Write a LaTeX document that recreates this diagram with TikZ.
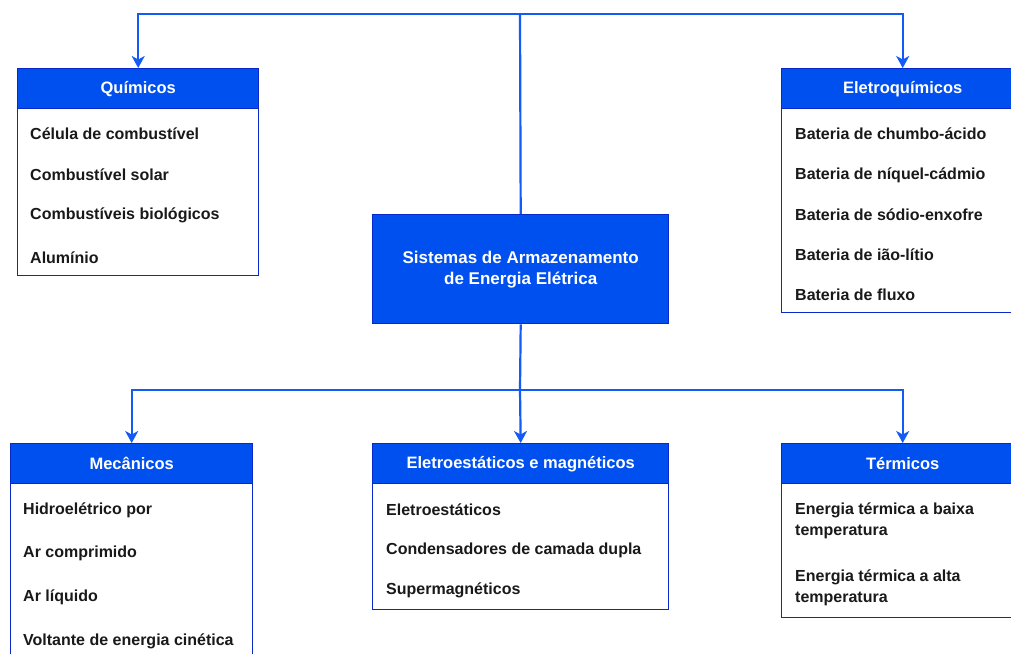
\documentclass[tikz,border=0pt]{standalone}
\usepackage{fontspec}
\setmainfont{Liberation Sans}
\usetikzlibrary{arrows.meta}
\definecolor{hdrblue}{RGB}{0,80,239}
\definecolor{boxline}{RGB}{10,40,200}
\definecolor{linkblue}{RGB}{20,90,245}
\definecolor{itemtext}{RGB}{25,25,25}
\tikzset{
  hdr/.style={draw=boxline, fill=hdrblue, line width=1.4pt, anchor=north west,
    inner sep=0pt, minimum height=40pt, text=white,
    font=\bfseries\fontsize{16.5}{21}\selectfont},
  bodybox/.style={draw=boxline, fill=white, line width=1.4pt, anchor=north west, inner sep=0pt},
  item/.style={anchor=west, inner sep=0pt, text=itemtext, align=left,
    font=\bfseries\fontsize{16}{21}\selectfont},
  link/.style={draw=linkblue, line width=2.2pt},
  arrowlink/.style={link, -{Stealth[length=12pt,width=13pt,inset=3.5pt]}}
}
\begin{document}
\begin{tikzpicture}[x=1pt,y=-1pt]
\useasboundingbox (0,0) rectangle (1011,653);
\clip (0,0) rectangle (1011,653);
\fill[white] (0,0) rectangle (1011,653);

% central node
\node[hdr, minimum width=296pt, minimum height=109pt, align=center,
  font=\bfseries\fontsize{17}{21}\selectfont] (center) at (372,214)
  {Sistemas de Armazenamento\\de Energia Elétrica};

% Químicos
\node[bodybox, minimum width=241pt, minimum height=167pt] (quB) at (17,108) {};
\node[hdr, minimum width=241pt] (quH) at (17,68) {Químicos};
\node[item] (qu1) at (30,134) {Célula de combustível};
\node[item] (qu2) at (30,175) {Combustível solar};
\node[item] (qu3) at (30,215) {Combustíveis biológicos};
\node[item] (qu4) at (30,258) {Alumínio};

% Eletroquímicos
\node[bodybox, minimum width=242pt, minimum height=204pt] (eqB) at (781,108) {};
\node[hdr, minimum width=242pt] (eqH) at (781,68) {Eletroquímicos};
\node[item] (eq1) at (795,134) {Bateria de chumbo-ácido};
\node[item] (eq2) at (795,175) {Bateria de níquel-cádmio};
\node[item] (eq3) at (795,215) {Bateria de sódio-enxofre};
\node[item] (eq4) at (795,255) {Bateria de ião-lítio};
\node[item] (eq5) at (795,295) {Bateria de fluxo};

% Mecânicos
\node[bodybox, minimum width=242pt, minimum height=230pt] (meB) at (10,483) {};
\node[hdr, minimum width=242pt] (meH) at (10,443) {Mecânicos};
\node[item] (me1) at (23,510) {Hidroelétrico por};
\node[item] (me2) at (23,553) {Ar comprimido};
\node[item] (me3) at (23,597) {Ar líquido};
\node[item] (me4) at (23,641) {Voltante de energia cinética};

% Eletroestáticos e magnéticos
\node[bodybox, minimum width=296pt, minimum height=126pt] (esB) at (372,483) {};
\node[hdr, minimum width=296pt] (esH) at (372,443) {Eletroestáticos e magnéticos};
\node[item] (es1) at (386,510) {Eletroestáticos};
\node[item] (es2) at (386,550) {Condensadores de camada dupla};
\node[item] (es3) at (386,590) {Supermagnéticos};

% Térmicos
\node[bodybox, minimum width=242pt, minimum height=134pt] (teB) at (781,483) {};
\node[hdr, minimum width=242pt] (teH) at (781,443) {Térmicos};
\node[item] (te1) at (795,521) {Energia térmica a baixa\\temperatura};
\node[item] (te2) at (795,588) {Energia térmica a alta\\temperatura};

% connectors
\coordinate (topbus) at (520,14);
\coordinate (botbus) at (520,390);
\draw[link] (center.north) -- (topbus);
\draw[arrowlink] (topbus) -| (quH.north);
\draw[arrowlink] (topbus) -| (eqH.north);
\draw[link] (center.south) -- (botbus);
\draw[arrowlink] (botbus) -| (meH.north);
\draw[arrowlink] (botbus) -- (esH.north);
\draw[arrowlink] (botbus) -| (teH.north);
\end{tikzpicture}
\end{document}
